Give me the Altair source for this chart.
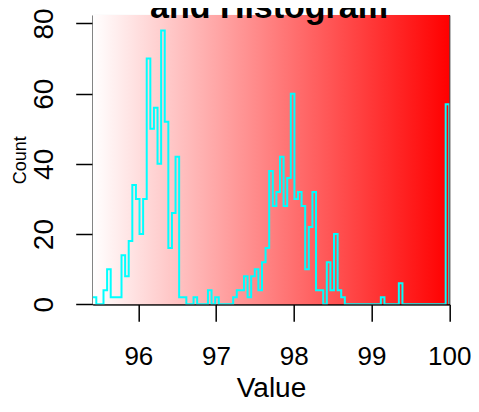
import altair as alt
import pandas as pd

# ---- data ----
x_min = 95.413
x_max = 100.0
y_max = 82.4
bin_width = 0.04633
counts = [
    2, 0, 0, 4, 10, 2, 2, 2, 14, 8,
    18, 34, 30, 20, 30, 70, 50, 56, 40, 78,
    52, 16, 26, 42, 2, 2, 0, 0, 2, 0,
    0, 0, 4, 0, 2, 0, 0, 0, 0, 2,
    4, 4, 8, 2, 8, 10, 4, 12, 16, 38,
    28, 32, 42, 28, 36, 60, 30, 32, 28, 10,
    22, 32, 4, 4, 0, 12, 4, 20, 4, 2,
    0, 0, 0, 0, 0, 0, 0, 0, 0, 0,
    2, 0, 0, 0, 0, 6, 0, 0, 0, 0,
    0, 0, 0, 0, 0, 0, 0, 0, 57,
]
x_ticks = [96, 97, 98, 99, 100]
y_ticks = [0, 20, 40, 60, 80]
title_text = "and Histogram"
x_title = "Value"
y_title = "Count"

xs = [x_min + bin_width * i for i in range(len(counts))] + [x_max, x_max]
ys = counts + [counts[-1], 0]
df = pd.DataFrame({"x": xs, "y": ys, "order": list(range(len(xs)))})
bg = pd.DataFrame({"x0": [x_min], "x1": [x_max], "y0": [0], "y1": [y_max]})
tdf = pd.DataFrame({"t": [title_text]})

FONT = "Liberation Sans"
W, H = 356.6, 289.3

xscale = alt.Scale(domain=[x_min, x_max], nice=False, zero=False)
yscale = alt.Scale(domain=[0, y_max], nice=False, zero=False)

xaxis = alt.Axis(
    values=x_ticks, grid=False, title=x_title,
    labelFont=FONT, labelFontSize=26, labelColor="black",
    labelBaseline="alphabetic", labelPadding=43.7, labelFlush=False,
    labelOverlap=False, tickSize=17, tickWidth=1.5, tickColor="black",
    domainColor="black", domainWidth=1.5,
    titleFont=FONT, titleFontSize=28, titleFontWeight="normal",
    titleColor="black", titleBaseline="alphabetic", titleY=92.5,
)
yaxis = alt.Axis(
    values=y_ticks, grid=False, title=y_title,
    labelFont=FONT, labelFontSize=28, labelColor="black",
    labelAngle=270, labelAlign="center", labelBaseline="alphabetic",
    labelPadding=22.7, labelFlush=False, labelOverlap=False,
    tickSize=17, tickWidth=1.5, tickColor="black",
    domainColor="black", domainWidth=1.5,
    titleFont=FONT, titleFontSize=18, titleFontWeight="normal",
    titleColor="black", titleAngle=270, titleAlign="center",
    titleBaseline="alphabetic", titleX=-67.7, titleY=H / 2,
)

gradient = alt.LinearGradient(
    gradient="linear",
    stops=[alt.GradientStop(color="white", offset=0),
           alt.GradientStop(color="red", offset=1)],
    x1=0, x2=1, y1=0, y2=0,
)

background = alt.Chart(bg).mark_rect(fill=gradient).encode(
    x=alt.X("x0:Q", scale=xscale, axis=xaxis),
    x2="x1:Q",
    y=alt.Y("y0:Q", scale=yscale, axis=yaxis),
    y2="y1:Q",
)

line = alt.Chart(df).mark_line(
    interpolate="step-after", color="cyan", strokeWidth=2, clip=True
).encode(
    x=alt.X("x:Q", scale=xscale, axis=xaxis),
    y=alt.Y("y:Q", scale=yscale, axis=yaxis),
    order="order:Q",
)

title = alt.Chart(tdf).mark_text(
    font=FONT, fontSize=34, fontWeight="bold", color="black",
    align="center", baseline="alphabetic",
).encode(
    text="t:N",
    x=alt.value(W / 2 - 2),
    y=alt.value(3),
)

chart = alt.layer(background, line, title).properties(
    width=W,
    height=H,
    padding={"left": 84.7, "top": 7, "right": 21.5, "bottom": 98.5},
    autosize=alt.AutoSizeParams(type="none"),
).configure_view(stroke="black", strokeWidth=1)

chart.save("out.html", embed_options={"renderer": "svg", "actions": False})
